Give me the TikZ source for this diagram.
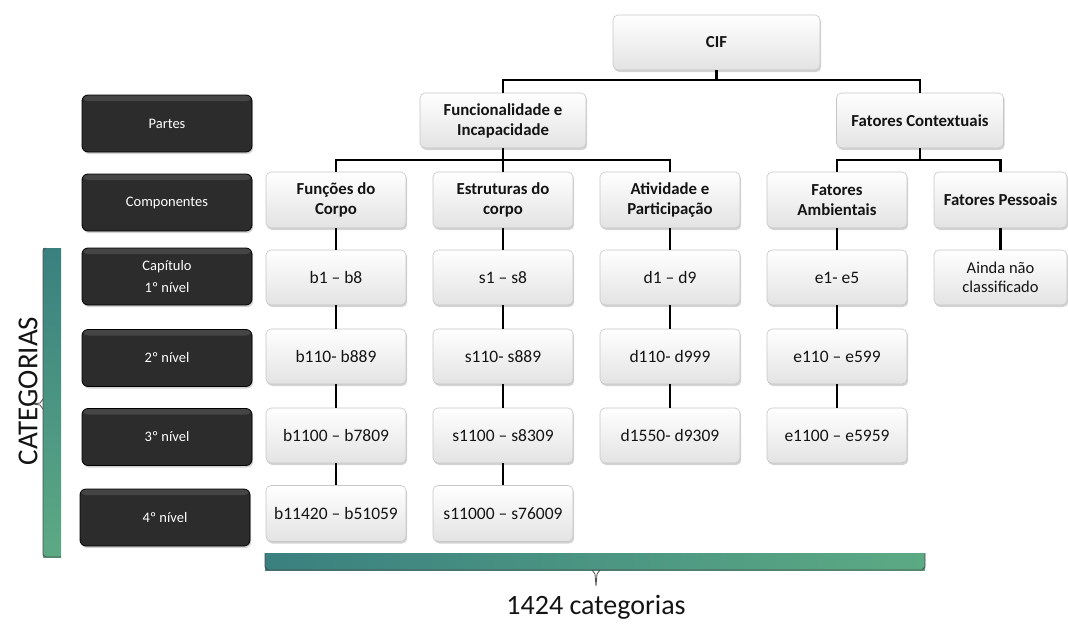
\documentclass[tikz,border=0pt]{standalone}
\usepackage{fontspec}
\setmainfont{Carlito}
\usetikzlibrary{shadows,calc}
\definecolor{tealA}{RGB}{58,128,128}
\definecolor{greenB}{RGB}{92,170,132}
\definecolor{darkbox}{RGB}{44,44,44}
\definecolor{ink}{RGB}{20,20,20}
\tikzset{
  lightbox/.style={rounded corners=5pt, top color=white, bottom color=gray!22,
    draw=gray!45, line width=0.6pt, text=ink, align=center,
    drop shadow={opacity=0.35, shadow xshift=1.2pt, shadow yshift=-2pt},
    minimum width=140, minimum height=56, inner sep=2pt},
  headbox/.style={lightbox, font=\fontsize{16.8}{20}\selectfont\bfseries},
  codebox/.style={lightbox, minimum height=55, font=\fontsize{17.5}{20}\selectfont},
  levelbox/.style={rounded corners=6pt, fill=darkbox, draw=black, line width=0.8pt,
    text=white, align=center, minimum width=170, minimum height=57,
    font=\fontsize{14.5}{22}\selectfont,
    drop shadow={opacity=0.35, shadow xshift=1.2pt, shadow yshift=-2pt},
    path picture={\fill[white,opacity=0.12]
      (path picture bounding box.north west) rectangle
      ([yshift=-6pt]path picture bounding box.north east);}},
  conn/.style={line width=2.6pt, draw=black}
}
\begin{document}
\begin{tikzpicture}[x=1pt,y=-1pt]
\useasboundingbox (0,0) rectangle (1068,624);

% left column: level labels
\node[levelbox] (lpart) at (167,123.5) {Partes};
\node[levelbox] (lcomp) at (167,202.5) {Componentes};
\node[levelbox] (lcap)  at (167,276.5) {Capítulo\\1º nível};
\node[levelbox] (lniv2) at (167,358) {2º nível};
\node[levelbox] (lniv3) at (167,437) {3º nível};
\node[levelbox] (lniv4) at (165,517.5) {4º nível};

% junction points of the tree
\coordinate (j0) at (716.5,80);
\coordinate (j1) at (503,160);
\coordinate (j2) at (920,160);

% hierarchy
\node[headbox, minimum width=207, minimum height=55] (cif) at (716.5,42.5) {CIF};
\node[headbox, minimum width=166, minimum height=55] (func) at (503,120.5) {Funcionalidade e\\Incapacidade};
\node[headbox, minimum width=167, minimum height=55] (ctx) at (920,120.5) {Fatores Contextuais};

\node[headbox] (fn)  at (336,200) {Funções do\\Corpo};
\node[headbox] (est) at (503,200) {Estruturas do\\corpo};
\node[headbox] (atv) at (670,200) {Atividade e\\Participação};
\node[headbox] (amb) at (837,200) {Fatores\\Ambientais};
\node[headbox, minimum width=133] (pes) at (1000.5,200) {Fatores Pessoais};

% codes, level 1
\node[codebox] (b1) at (336,277.5) {b1 – b8};
\node[codebox] (s1) at (503,277.5) {s1 – s8};
\node[codebox] (d1) at (670,277.5) {d1 – d9};
\node[codebox] (e1) at (837,277.5) {e1- e5};
\node[codebox, minimum width=133, font=\fontsize{16.5}{19}\selectfont] (p1) at (1000.5,277.5) {Ainda não\\classificado};
% level 2
\node[codebox] (b2) at (336,356.5) {b110- b889};
\node[codebox] (s2) at (503,356.5) {s110- s889};
\node[codebox] (d2) at (670,356.5) {d110- d999};
\node[codebox] (e2) at (837,356.5) {e110 – e599};
% level 3
\node[codebox] (b3) at (336,435.5) {b1100 – b7809};
\node[codebox] (s3) at (503,435.5) {s1100 – s8309};
\node[codebox] (d3) at (670,435.5) {d1550- d9309};
\node[codebox] (e3) at (837,435.5) {e1100 – e5959};
% level 4
\node[codebox, minimum height=56] (b4) at (336,513.5) {b11420 – b51059};
\node[codebox, minimum height=56] (s4) at (503,513.5) {s11000 – s76009};

% tree connectors
\draw[conn] (cif.south) -- (j0);
\draw[conn] (func.north) |- (j0) -| (ctx.north);
\draw[conn] (func.south) -- (est.north);
\draw[conn] (fn.north) |- (j1) -| (atv.north);
\draw[conn] (ctx.south) -- (j2);
\draw[conn] (amb.north) |- (j2) -| (pes.north);
\draw[conn] (fn) -- (b1); \draw[conn] (b1) -- (b2); \draw[conn] (b2) -- (b3); \draw[conn] (b3) -- (b4);
\draw[conn] (est) -- (s1); \draw[conn] (s1) -- (s2); \draw[conn] (s2) -- (s3); \draw[conn] (s3) -- (s4);
\draw[conn] (atv) -- (d1); \draw[conn] (d1) -- (d2); \draw[conn] (d2) -- (d3);
\draw[conn] (amb) -- (e1); \draw[conn] (e1) -- (e2); \draw[conn] (e2) -- (e3);
\draw[conn] (pes) -- (p1);

% vertical bracket: categories
\shade[top color=tealA, bottom color=greenB] (43,248) -- (61,248) -- (61,557) -- (43,557) -- cycle;
\draw[gray!60!black, line width=0.8pt] (46,248) -- (43,250) -- (43,555) -- (46,557) -- (61,557);
\draw[gray!60!black, line width=0.8pt] (43,399) -- (40,403) -- (33,404) -- (40,405) -- (43,409);
\coordinate (catpt) at (28,391);
\node[rotate=90, text=ink, font=\fontsize{29}{32}\selectfont, inner sep=0pt] (catlbl) at (catpt) {CATEGORIAS};

% horizontal bracket: total
\shade[left color=tealA, right color=greenB] (265,553) rectangle (925,570);
\draw[gray!60!black, line width=0.8pt] (265,553) -- (265,567) -- (268,570) -- (922,570) -- (925,567) -- (925,553);
\draw[gray!60!black, line width=0.8pt] (592,570) -- (595,574) -- (596,586) -- (597,574) -- (600,570);
\coordinate (totpt) at (596,607);
\node[text=ink, font=\fontsize{28}{30}\selectfont, inner sep=0pt] (totlbl) at (totpt) {1424 categorias};
\end{tikzpicture}
\end{document}
